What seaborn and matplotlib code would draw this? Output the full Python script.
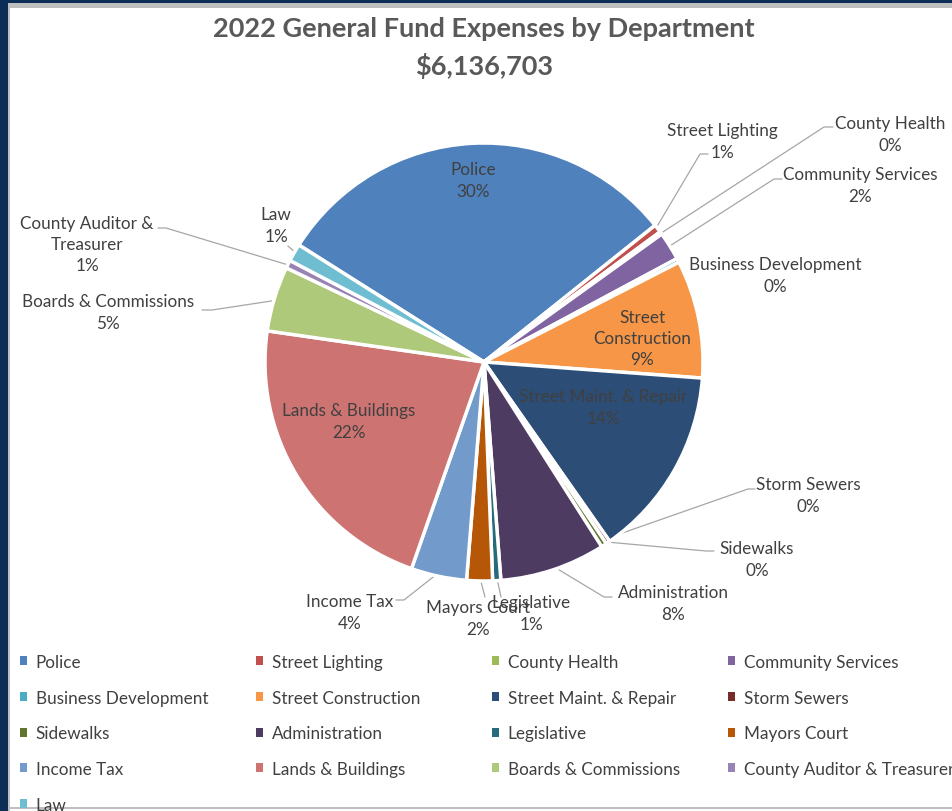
import matplotlib
matplotlib.use("Agg")
import matplotlib.pyplot as plt
import matplotlib.patches as mpatches
import numpy as np
import seaborn as sns

# Data (shares in %)
departments = [
    "Police", "Street Lighting", "County Health", "Community Services",
    "Business Development", "Street Construction", "Street Maint. & Repair",
    "Storm Sewers", "Sidewalks", "Administration", "Legislative",
    "Mayors Court", "Income Tax", "Lands & Buildings",
    "Boards & Commissions", "County Auditor & Treasurer", "Law",
]
shares = [30.3, 0.6, 0.2, 2.1, 0.3, 8.7, 14.1, 0.3, 0.4, 7.8, 0.6,
          1.9, 4.1, 21.9, 4.8, 0.6, 1.3]
colors = [
    "#4F81BD", "#C0504D", "#9BBB59", "#8064A2", "#4BACC6", "#F79646",
    "#2C4D75", "#772C2A", "#5F7530", "#4D3B62", "#276A7C", "#B65708",
    "#729ACA", "#CD7371", "#AFC97A", "#9983B5", "#6FBDD1",
]
title = "2022 General Fund Expenses by Department"
total = r"\$6,136,703"

# label names as drawn on the chart (some wrap)
label_names = {
    "Street Construction": "Street\nConstruction",
    "County Auditor & Treasurer": "County Auditor &\nTreasurer",
}

sns.set_theme(style="white")
plt.rcParams["font.family"] = ["Lato", "DejaVu Sans"]
TXT = "#404040"
FS = 12.3

W, H = 953, 812
CX, CY, R = 484, 363, 219


def d(px, py):
    return ((px - CX) / R, (CY - py) / R)


fig = plt.figure(figsize=(W / 100, H / 100), dpi=100)
fig.patch.set_facecolor("white")
ax = fig.add_axes([0, 0, 1, 1])

wedges, _ = ax.pie(
    shares, colors=sns.color_palette(colors), startangle=147.7,
    counterclock=False, radius=1,
    wedgeprops=dict(edgecolor="white", linewidth=2.5),
)
ax.set_aspect("auto")
ax.set_xlim(-CX / R, (W - CX) / R)
ax.set_ylim((CY - H) / R, CY / R)
ax.axis("off")

# labels inside the slices
inside = {
    "Police": (473, 181),
    "Street Construction": (642, 339),
    "Street Maint. & Repair": (603, 408),
    "Lands & Buildings": (349, 422),
}
# labels outside: text centre, then leader elbow and end (pixels)
outside = {
    "Street Lighting": ((722, 142), [(700, 155), (708, 155)]),
    "County Health": ((890, 135), [(824, 128), (833, 128)]),
    "Community Services": ((860, 186), [(774, 180), (782, 180)]),
    "Business Development": ((775, 276), []),
    "Storm Sewers": ((808, 496), [(748, 490), (755, 490)]),
    "Sidewalks": ((757, 560), [(706, 552), (714, 552)]),
    "Administration": ((673, 604), [(604, 598), (612, 598)]),
    "Legislative": ((531, 614), [(501, 598)]),
    "Mayors Court": ((478, 619), [(485, 598)]),
    "Income Tax": ((350, 613), [(404, 601), (396, 601)]),
    "Boards & Commissions": ((108, 313), [(212, 311), (202, 311)]),
    "County Auditor & Treasurer": ((87, 245), [(166, 229), (158, 229)]),
    "Law": ((276, 226), [(288, 247)]),
}

for w, name, s in zip(wedges, departments, shares):
    text = f"{label_names.get(name, name)}\n{s:.0f}%"
    if name in inside:
        x, y = d(*inside[name])
        ax.text(x, y, text, ha="center", va="center", fontsize=FS,
                color=TXT, linespacing=1.4)
        continue
    (tx, ty), pts = outside[name]
    mid = np.deg2rad((w.theta1 + w.theta2) / 2)
    if pts:
        xs = [np.cos(mid) * 0.98] + [d(*p)[0] for p in pts]
        ys = [np.sin(mid) * 0.98] + [d(*p)[1] for p in pts]
        ax.plot(xs, ys, color="#A6A6A6", lw=0.9, zorder=0.5)
    x, y = d(tx, ty)
    ax.text(x, y, text, ha="center", va="center", fontsize=FS,
            color=TXT, linespacing=1.4)

# title
fig.text(CX / W, 1 - 29 / H, title, ha="center", va="center",
         fontsize=19.5, fontweight="bold", color="#595959")
fig.text(CX / W, 1 - 66 / H, total, ha="center", va="center",
         fontsize=19.5, fontweight="bold", color="#595959")

# legend: four columns, row-major like the original
col_x = [20, 256, 492, 728]
for c in range(4):
    idx = list(range(c, len(departments), 4))
    handles = [mpatches.Patch(facecolor=colors[i], edgecolor="none",
                              label=departments[i]) for i in idx]
    fig.legend(handles=handles, loc="upper left",
               bbox_to_anchor=(col_x[c] / W, 1 - 655 / H),
               frameon=False, fontsize=FS, handlelength=0.42,
               handleheight=0.42, handletextpad=0.5, labelspacing=1.15,
               borderaxespad=0, borderpad=0, labelcolor=TXT)

# frame around the chart
navy, grey = "#0C2D55", "#BFBFBF"
for x0, y0, w0, h0, col in [
    (0, 0, 8, H, navy), (0, 0, W, 4, navy),
    (8, 4, W, 5, grey), (8, 4, 2, H, grey), (8, 808, W, 2, grey),
]:
    fig.patches.append(mpatches.Rectangle(
        (x0 / W, 1 - (y0 + h0) / H), w0 / W, h0 / H,
        transform=fig.transFigure, facecolor=col, edgecolor="none",
        zorder=5))

fig.savefig("out.png", dpi=100)
